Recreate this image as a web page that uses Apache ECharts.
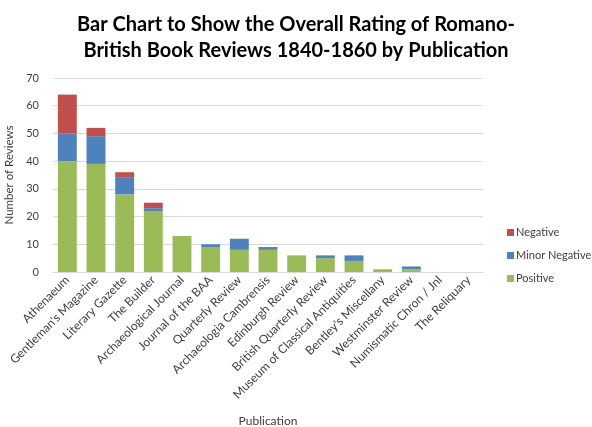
<!DOCTYPE html>
<html><head><meta charset="utf-8">
<script src="https://cdn.jsdelivr.net/npm/echarts@6/dist/echarts.min.js"></script>
<style>html,body{margin:0;padding:0;background:#fff}#c{width:592px;height:427px}</style>
</head><body><div id="c"></div>
<script>
const categories = ["Athenaeum","Gentleman's Magazine","Literary Gazette","The Builder","Archaeological Journal","Journal of the BAA","Quarterly Review","Archaeologia Cambrensis","Edinburgh Review","British Quarterly Review","Museum of Classical Antiquities","Bentley's Miscellany","Westminster Review","Numismatic Chron / Jnl","The Reliquary"];
const positive = [40,39,28,22,13,9,8,8,6,5,4,1,1,0,0];
const minorNegative = [10,10,6,1,0,1,4,1,0,1,2,0,1,0,0];
const negative = [14,3,2,2,0,0,0,0,0,0,0,0,0,0,0];
const yTicks = [0,10,20,30,40,50,60,70];

const font = 'Lato, "Open Sans", sans-serif';
const chart = echarts.init(document.getElementById('c'));
chart.setOption({
  animation:false,
  textStyle:{fontFamily:font},
  title:{text:'Bar Chart to Show the Overall Rating of Romano-\nBritish Book Reviews 1840-1860 by Publication',left:291,textAlign:'center',top:7,
    textStyle:{fontSize:20,fontWeight:'bold',color:'#000',lineHeight:26,fontFamily:font}},
  legend:{orient:'vertical',left:502,top:222,itemGap:12,itemWidth:7,itemHeight:7,icon:'rect',
    data:['Negative','Minor Negative','Positive'],
    textStyle:{fontSize:11,color:'#404040',fontFamily:font,padding:[0,0,0,-3]}},
  grid:{left:53,right:109,top:78,bottom:155,containLabel:false,outerBoundsMode:'none'},
  xAxis:{type:'category',data:categories,name:'Publication',nameLocation:'middle',nameGap:143,
    nameTextStyle:{fontSize:12,color:'#404040'},
    axisTick:{show:false},axisLine:{lineStyle:{color:'#d9d9d9'}},
    axisLabel:{interval:0,rotate:45,fontSize:12,color:'#404040',margin:6}},
  yAxis:{type:'value',min:yTicks[0],max:yTicks[yTicks.length-1],interval:10,name:'Number of Reviews',nameLocation:'middle',nameGap:34,
    nameTextStyle:{fontSize:11.5,color:'#404040'},
    axisLabel:{fontSize:11,color:'#404040',margin:14},
    splitLine:{lineStyle:{color:'#d9d9d9'}},axisLine:{show:false},axisTick:{show:false}},
  series:[
    {name:'Positive',type:'bar',stack:'a',data:positive,itemStyle:{color:'#9BBB59'},barCategoryGap:'34%'},
    {name:'Minor Negative',type:'bar',stack:'a',data:minorNegative,itemStyle:{color:'#4F81BD'}},
    {name:'Negative',type:'bar',stack:'a',data:negative,itemStyle:{color:'#C0504D'}}
  ]
});
</script></body></html>
